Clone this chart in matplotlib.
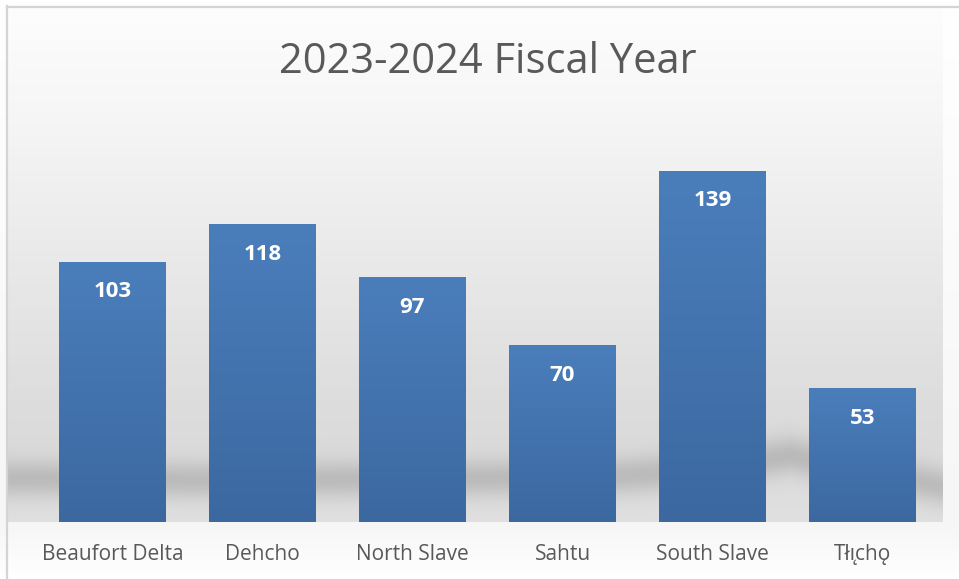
import numpy as np
import matplotlib
matplotlib.use("Agg")
from matplotlib import pyplot as plt

# chart data
REGIONS = ["Beaufort Delta", "Dehcho", "North Slave", "Sahtu", "South Slave", "T\u0142\u0131\u0328ch\u01eb"]
COUNTS = [103, 118, 97, 70, 139, 53]
TITLE = "2023-2024 Fiscal Year"

W, H = 959, 579
plt.rcParams['font.family'] = ['Open Sans', 'DejaVu Sans']

fig = plt.figure(figsize=(W / 100, H / 100), dpi=100)

# background: grey gradient with a soft floor shadow
yy, xx = np.mgrid[0:H, 0:W].astype(float)
base = np.interp(yy, [7, 100, 250, 400, 440, 522], [253, 247, 234, 221, 219, 224])
yc = np.interp(xx, [0, 200, 600, 700, 790, 860, 942], [478, 480, 477, 470, 455, 470, 486])
shadow = 34 * np.exp(-((yy - yc) / 19.0) ** 2)
bg = base - shadow
below = yy >= 522
bg[below] = np.interp(yy[below], [522, 579], [246, 255])
outside = (xx < 8) | (xx > 942) | (yy < 7)
bg[outside & ~below] = np.interp(yy[outside & ~below], [0, 522], [255, 246])
bg = np.clip(bg, 0, 255) / 255.0
bg_ax = fig.add_axes([0, 0, 1, 1], zorder=0)
bg_ax.imshow(np.dstack([bg, bg, bg]), extent=[0, W, H, 0], aspect='auto')
bg_ax.plot([7, 7], [6, H], color='#d4d4d4', lw=1.6)
bg_ax.plot([7, W], [6.5, 6.5], color='#d4d4d4', lw=1.6)
bg_ax.set_xlim(0, W)
bg_ax.set_ylim(H, 0)
bg_ax.axis('off')

# main axes
left_px, right_px, base_px, top_px = 37.5, 937.5, 522, 118
ax = fig.add_axes([left_px / W, (H - base_px) / H, (right_px - left_px) / W, (base_px - top_px) / H], zorder=1)
ax.patch.set_alpha(0)
x = np.arange(len(REGIONS))
ymax = 139 * (base_px - top_px) / (522 - 171)
bars = ax.bar(x, COUNTS, width=0.713, color='#4472a8', zorder=2)

# gradient fill for bars
grad = np.linspace(0, 1, 256).reshape(-1, 1)
top_c = np.array([74, 126, 187]) / 255.0
bot_c = np.array([60, 104, 160]) / 255.0
for b in bars:
    bx, by, bw, bh = b.get_x(), b.get_y(), b.get_width(), b.get_height()
    img = bot_c + (top_c - bot_c) * grad[:, :, None]
    im = ax.imshow(img, extent=[bx, bx + bw, by, by + bh], origin='lower',
                   aspect='auto', zorder=3)
    im.set_clip_path(b)

ax.set_xlim(-0.5, len(REGIONS) - 0.5)
ax.set_ylim(0, ymax)

# value labels
per_px = ymax / (base_px - top_px)
for xi, v in zip(x, COUNTS):
    ax.text(xi, v - 30 * per_px, str(v), ha='center', va='center', color='white',
            fontsize=16, fontweight='bold', zorder=4)

ax.set_xticks(x)
ax.set_xticklabels(REGIONS, fontsize=15, color='#595959')
ax.tick_params(axis='x', length=0, pad=16)
ax.set_yticks([])
for s in ax.spines.values():
    s.set_visible(False)

fig.text(488 / W, 1 - 62 / H, TITLE, ha='center', va='center', fontsize=30,
         color='#595959')

fig.savefig("out.png", dpi=100)
